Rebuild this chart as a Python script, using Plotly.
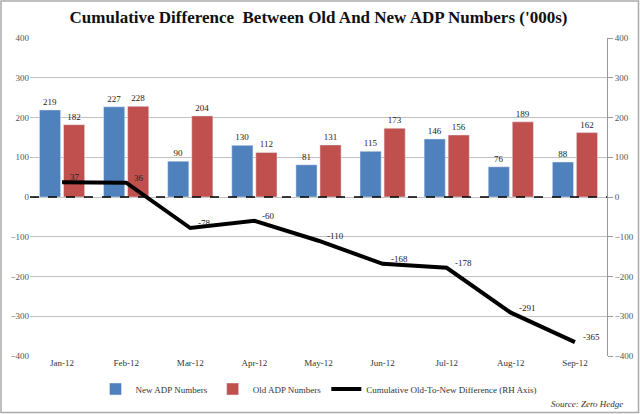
import plotly.graph_objects as go

months = ["Jan-12", "Feb-12", "Mar-12", "Apr-12", "May-12", "Jun-12", "Jul-12", "Aug-12", "Sep-12"]
new_adp = [219, 227, 90, 130, 81, 115, 146, 76, 88]
old_adp = [182, 228, 204, 112, 131, 173, 156, 189, 162]
cum_diff = [37, 36, -78, -60, -110, -168, -178, -291, -365]

FONT = "Liberation Serif"
W, H = 640, 414
L, R, T, B = 30, 33, 38, 58

fig = go.Figure()
fig.add_trace(go.Bar(
    x=months, y=new_adp, name="New ADP Numbers", marker_color="#4F81BD",
    text=new_adp, textposition="outside", textfont=dict(size=9, color="#222", family=FONT),
    cliponaxis=False,
))
fig.add_trace(go.Bar(
    x=months, y=old_adp, name="Old ADP Numbers", marker_color="#C0504D",
    text=old_adp, textposition="outside", textfont=dict(size=9, color="#222", family=FONT),
    cliponaxis=False,
))
fig.add_trace(go.Scatter(
    x=months, y=cum_diff, name="Cumulative Old-To-New Difference (RH Axis)",
    mode="lines", line=dict(color="black", width=4),
    yaxis="y2", cliponaxis=False,
))

line_labels = [
    dict(x=m, y=v, xref="x", yref="y2", text=str(v), showarrow=False,
         xanchor="left", yanchor="middle", xshift=6, yshift=5,
         font=dict(family=FONT, size=9, color="#222"))
    for m, v in zip(months, cum_diff)
]

pw = W - L - R
ph = H - T - B
fig.update_layout(
    width=W, height=H,
    margin=dict(l=L, r=R, t=T, b=B, autoexpand=False),
    paper_bgcolor="white", plot_bgcolor="white",
    font=dict(family=FONT, size=9, color="#444"),
    title=dict(text="<b>Cumulative Difference  Between Old And New ADP Numbers ('000s)</b>",
               x=0.5, xanchor="center", xref="paper", yref="container",
               y=1 - 17 / H, yanchor="middle", automargin=False,
               font=dict(family=FONT, size=17, color="#111")),
    barmode="group", bargap=0.25, bargroupgap=0.12,
    showlegend=True,
    legend=dict(orientation="h", x=0.5, xanchor="center", yref="container",
                y=1 - 389 / H, yanchor="middle", font=dict(family=FONT, size=9, color="#333"),
                itemwidth=30, traceorder="normal"),
    xaxis=dict(showgrid=False, ticks="", tickfont=dict(family=FONT, size=9, color="#333"),
               showline=False, automargin=False),
    yaxis=dict(range=[-400, 400], dtick=100, showgrid=True, gridcolor="#C0C0C0", gridwidth=1,
               zeroline=False, ticks="", tickfont=dict(family=FONT, size=9, color="#555"),
               showline=False, automargin=False),
    yaxis2=dict(range=[-400, 400], dtick=100, overlaying="y", side="right", showgrid=False,
                zeroline=False, ticks="outside", ticklen=5, tickcolor="#999",
                showline=True, linecolor="#999", linewidth=1, automargin=False,
                tickfont=dict(family=FONT, size=9, color="#555")),
    shapes=[
        dict(type="line", xref="paper", yref="y", x0=0, x1=1, y0=0, y1=0,
             line=dict(color="black", width=1.5, dash="dash")),
        dict(type="rect", xref="paper", yref="paper",
             x0=-(L - 1) / pw, x1=1 + (R - 1.5) / pw,
             y0=-(B - 1.5) / ph, y1=1 + (T - 1) / ph,
             line=dict(color="#AAAAAA", width=1.5), fillcolor="rgba(0,0,0,0)", layer="below"),
    ],
    annotations=line_labels + [
        dict(text="<i>Source: Zero Hedge</i>", xref="paper", yref="paper",
             x=1 + 18 / pw, y=-(404 - (H - B)) / ph, xanchor="right", yanchor="middle",
             showarrow=False, font=dict(family=FONT, size=9, color="#333")),
    ],
)

fig.write_html("out.html", config={"displayModeBar": False},
               post_script="document.body.style.margin='0';document.body.style.overflow='hidden';")
